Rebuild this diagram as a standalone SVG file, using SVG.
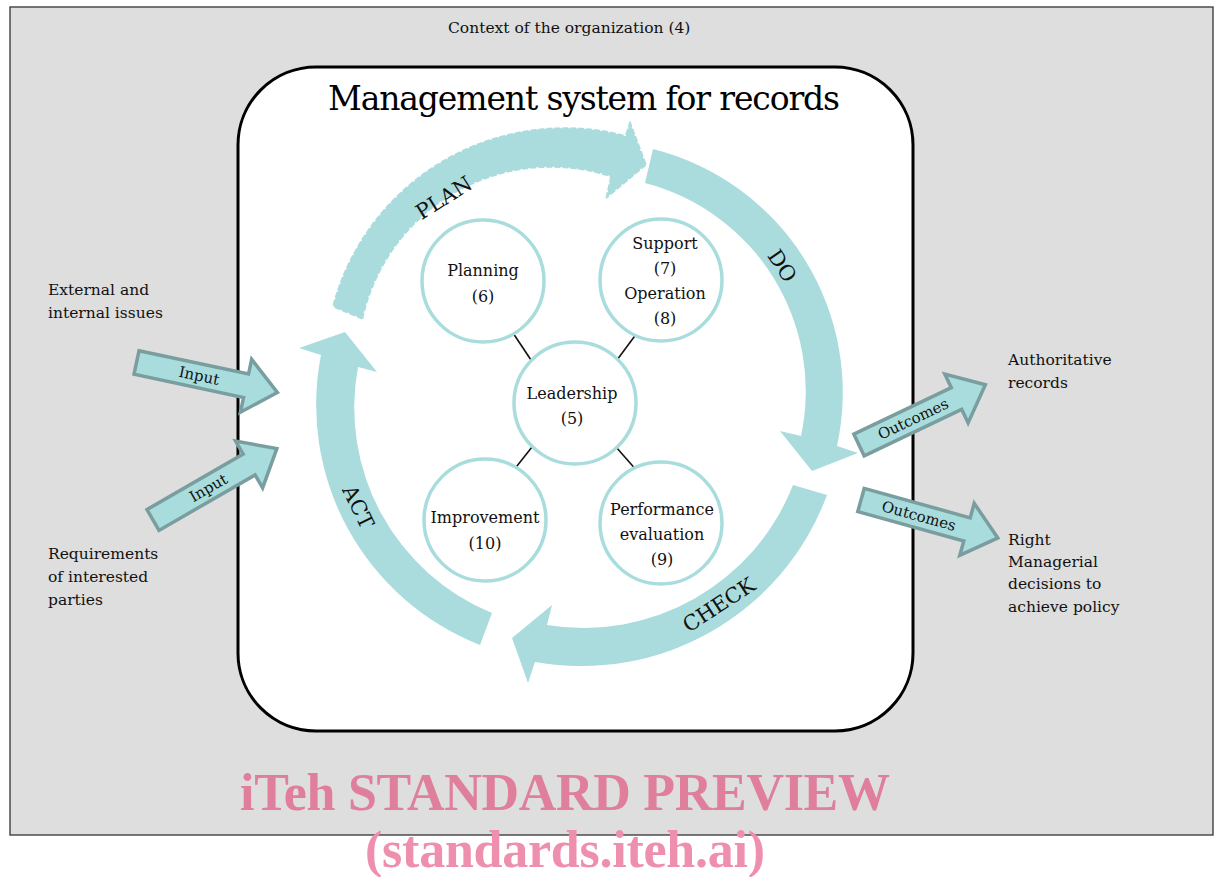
<svg xmlns="http://www.w3.org/2000/svg" width="1215" height="877" viewBox="0 0 1215 877">
<defs>
<style>
.t{font-family:"DejaVu Serif","Liberation Serif",serif;font-size:15.5px;fill:#111}
.c{font-family:"DejaVu Serif","Liberation Serif",serif;font-size:16px;fill:#111;text-anchor:middle}
.big{font-family:"DejaVu Serif","Liberation Serif",serif;font-size:21px;fill:#111;text-anchor:middle}
.al{font-family:"DejaVu Serif","Liberation Serif",serif;font-size:15px;fill:#111;text-anchor:middle}
.circ{fill:#fff;stroke:#a9dcdd;stroke-width:3.5}
.band{fill:#aadcde}
.blk{fill:#a9dcdd;stroke:#7a9e9f;stroke-width:3.5;stroke-linejoin:miter}
.wm{font-family:"Liberation Serif",serif;font-weight:bold;font-size:52px;text-anchor:middle}
.ln{stroke:#111;stroke-width:1.6}
</style>
</defs>
<rect id="context" x="10" y="7" width="1203" height="828" fill="#dedede" stroke="#333" stroke-width="1.3"/>
<text class="t" x="448" y="33">Context of the organization (4)</text>
<rect id="mgmt" x="238" y="67" width="675" height="664" rx="78" ry="78" fill="#fff" stroke="#000" stroke-width="3"/>
<text x="584" y="110" font-family="DejaVu Serif, Liberation Serif, serif" font-size="33" fill="#000" text-anchor="middle" textLength="512">Management system for records</text>

<g id="cycle">
<g id="plan">
<path class="band" d="M332,307 A240,240 0 0 1 625,135 L630,120 L647,165 L605,200 L610,177 A192,192 0 0 0 363,320 Z"/>
<path d="M332,307 A240,240 0 0 1 625,135 L630,120 L647,165 L605,200 L610,177 A192,192 0 0 0 363,320 Z" fill="none" stroke="#fff" stroke-width="2" stroke-dasharray="2 6"/>
<text class="big" transform="translate(444,198) rotate(-32)" y="7">PLAN</text>
</g>
<g id="do">
<path class="band" d="M653,149 A251,251 0 0 1 837,446 L858,453 L812,471 L780,431 L801,436 A215,215 0 0 0 645,183 Z"/>
<text class="big" transform="translate(782,266) rotate(56)" y="7">DO</text>
</g>
<g id="check">
<path class="band" d="M827,495 A262,262 0 0 1 535,662 L528,683 L512,638 L552,605 L547,625 A225,225 0 0 0 793,485 Z"/>
<text class="big" transform="translate(719,605) rotate(-33)" y="7">CHECK</text>
</g>
<g id="act">
<path class="band" d="M480,645 A258,258 0 0 1 321,355 L299,348 L345,332 L377,372 L358,367 A222,222 0 0 0 492,613 Z"/>
<text class="big" transform="translate(358,507) rotate(64)" y="7">ACT</text>
</g>
</g>

<g id="connectors">
<line class="ln" x1="511" y1="330" x2="531" y2="360"/>
<line class="ln" x1="637" y1="333" x2="617" y2="360"/>
<line class="ln" x1="532" y1="447" x2="513" y2="471"/>
<line class="ln" x1="616" y1="447" x2="638" y2="472"/>
</g>

<g id="planning">
<circle class="circ" cx="483" cy="281" r="61"/>
<text class="c" x="483" y="276">Planning</text>
<text class="c" x="483" y="302">(6)</text>
</g>
<g id="support">
<circle class="circ" cx="661" cy="280" r="61"/>
<text class="c" x="665" y="249">Support</text>
<text class="c" x="665" y="274">(7)</text>
<text class="c" x="665" y="299">Operation</text>
<text class="c" x="665" y="324">(8)</text>
</g>
<g id="leadership">
<circle class="circ" cx="575" cy="403" r="61"/>
<text class="c" x="572" y="399">Leadership</text>
<text class="c" x="572" y="424">(5)</text>
</g>
<g id="improvement">
<circle class="circ" cx="485" cy="520" r="61"/>
<text class="c" x="485" y="523">Improvement</text>
<text class="c" x="485" y="549">(10)</text>
</g>
<g id="performance">
<circle class="circ" cx="661" cy="523" r="61"/>
<text class="c" x="662" y="515">Performance</text>
<text class="c" x="662" y="540">evaluation</text>
<text class="c" x="662" y="565">(9)</text>
</g>

<g id="input1" transform="translate(136.5,362.5) rotate(12)">
<polygon class="blk" points="0,-12 112,-12 112,-27 144,0 112,27 112,12 0,12"/>
<text class="al" x="64" y="5">Input</text>
</g>
<g id="input2" transform="translate(153,520) rotate(-30)">
<polygon class="blk" points="0,-12 111,-12 111,-27 143,0 111,27 111,12 0,12"/>
<text class="al" x="64" y="5">Input</text>
</g>
<g id="outcomes1" transform="translate(859,445) rotate(-25.5)">
<polygon class="blk" points="0,-12 108,-12 108,-27 140,0 108,27 108,12 0,12"/>
<text class="al" x="60" y="5">Outcomes</text>
</g>
<g id="outcomes2" transform="translate(861,500) rotate(15.5)">
<polygon class="blk" points="0,-12 110,-12 110,-27 142,0 110,27 110,12 0,12"/>
<text class="al" x="60" y="5">Outcomes</text>
</g>

<g id="external">
<text class="t" x="48" y="295">External and</text>
<text class="t" x="48" y="318">internal issues</text>
</g>
<g id="requirements">
<text class="t" x="48" y="559">Requirements</text>
<text class="t" x="48" y="582">of interested</text>
<text class="t" x="48" y="605">parties</text>
</g>
<g id="authoritative">
<text class="t" x="1008" y="365">Authoritative</text>
<text class="t" x="1008" y="388">records</text>
</g>
<g id="right">
<text class="t" x="1008" y="545">Right</text>
<text class="t" x="1008" y="567">Managerial</text>
<text class="t" x="1008" y="589">decisions to</text>
<text class="t" x="1008" y="612">achieve policy</text>
</g>

<text class="wm" x="565" y="810" fill="#df7f9c" textLength="650">iTeh STANDARD PREVIEW</text>
<text class="wm" x="565" y="867" fill="#ef8fae" textLength="400">(standards.iteh.ai)</text>
</svg>
